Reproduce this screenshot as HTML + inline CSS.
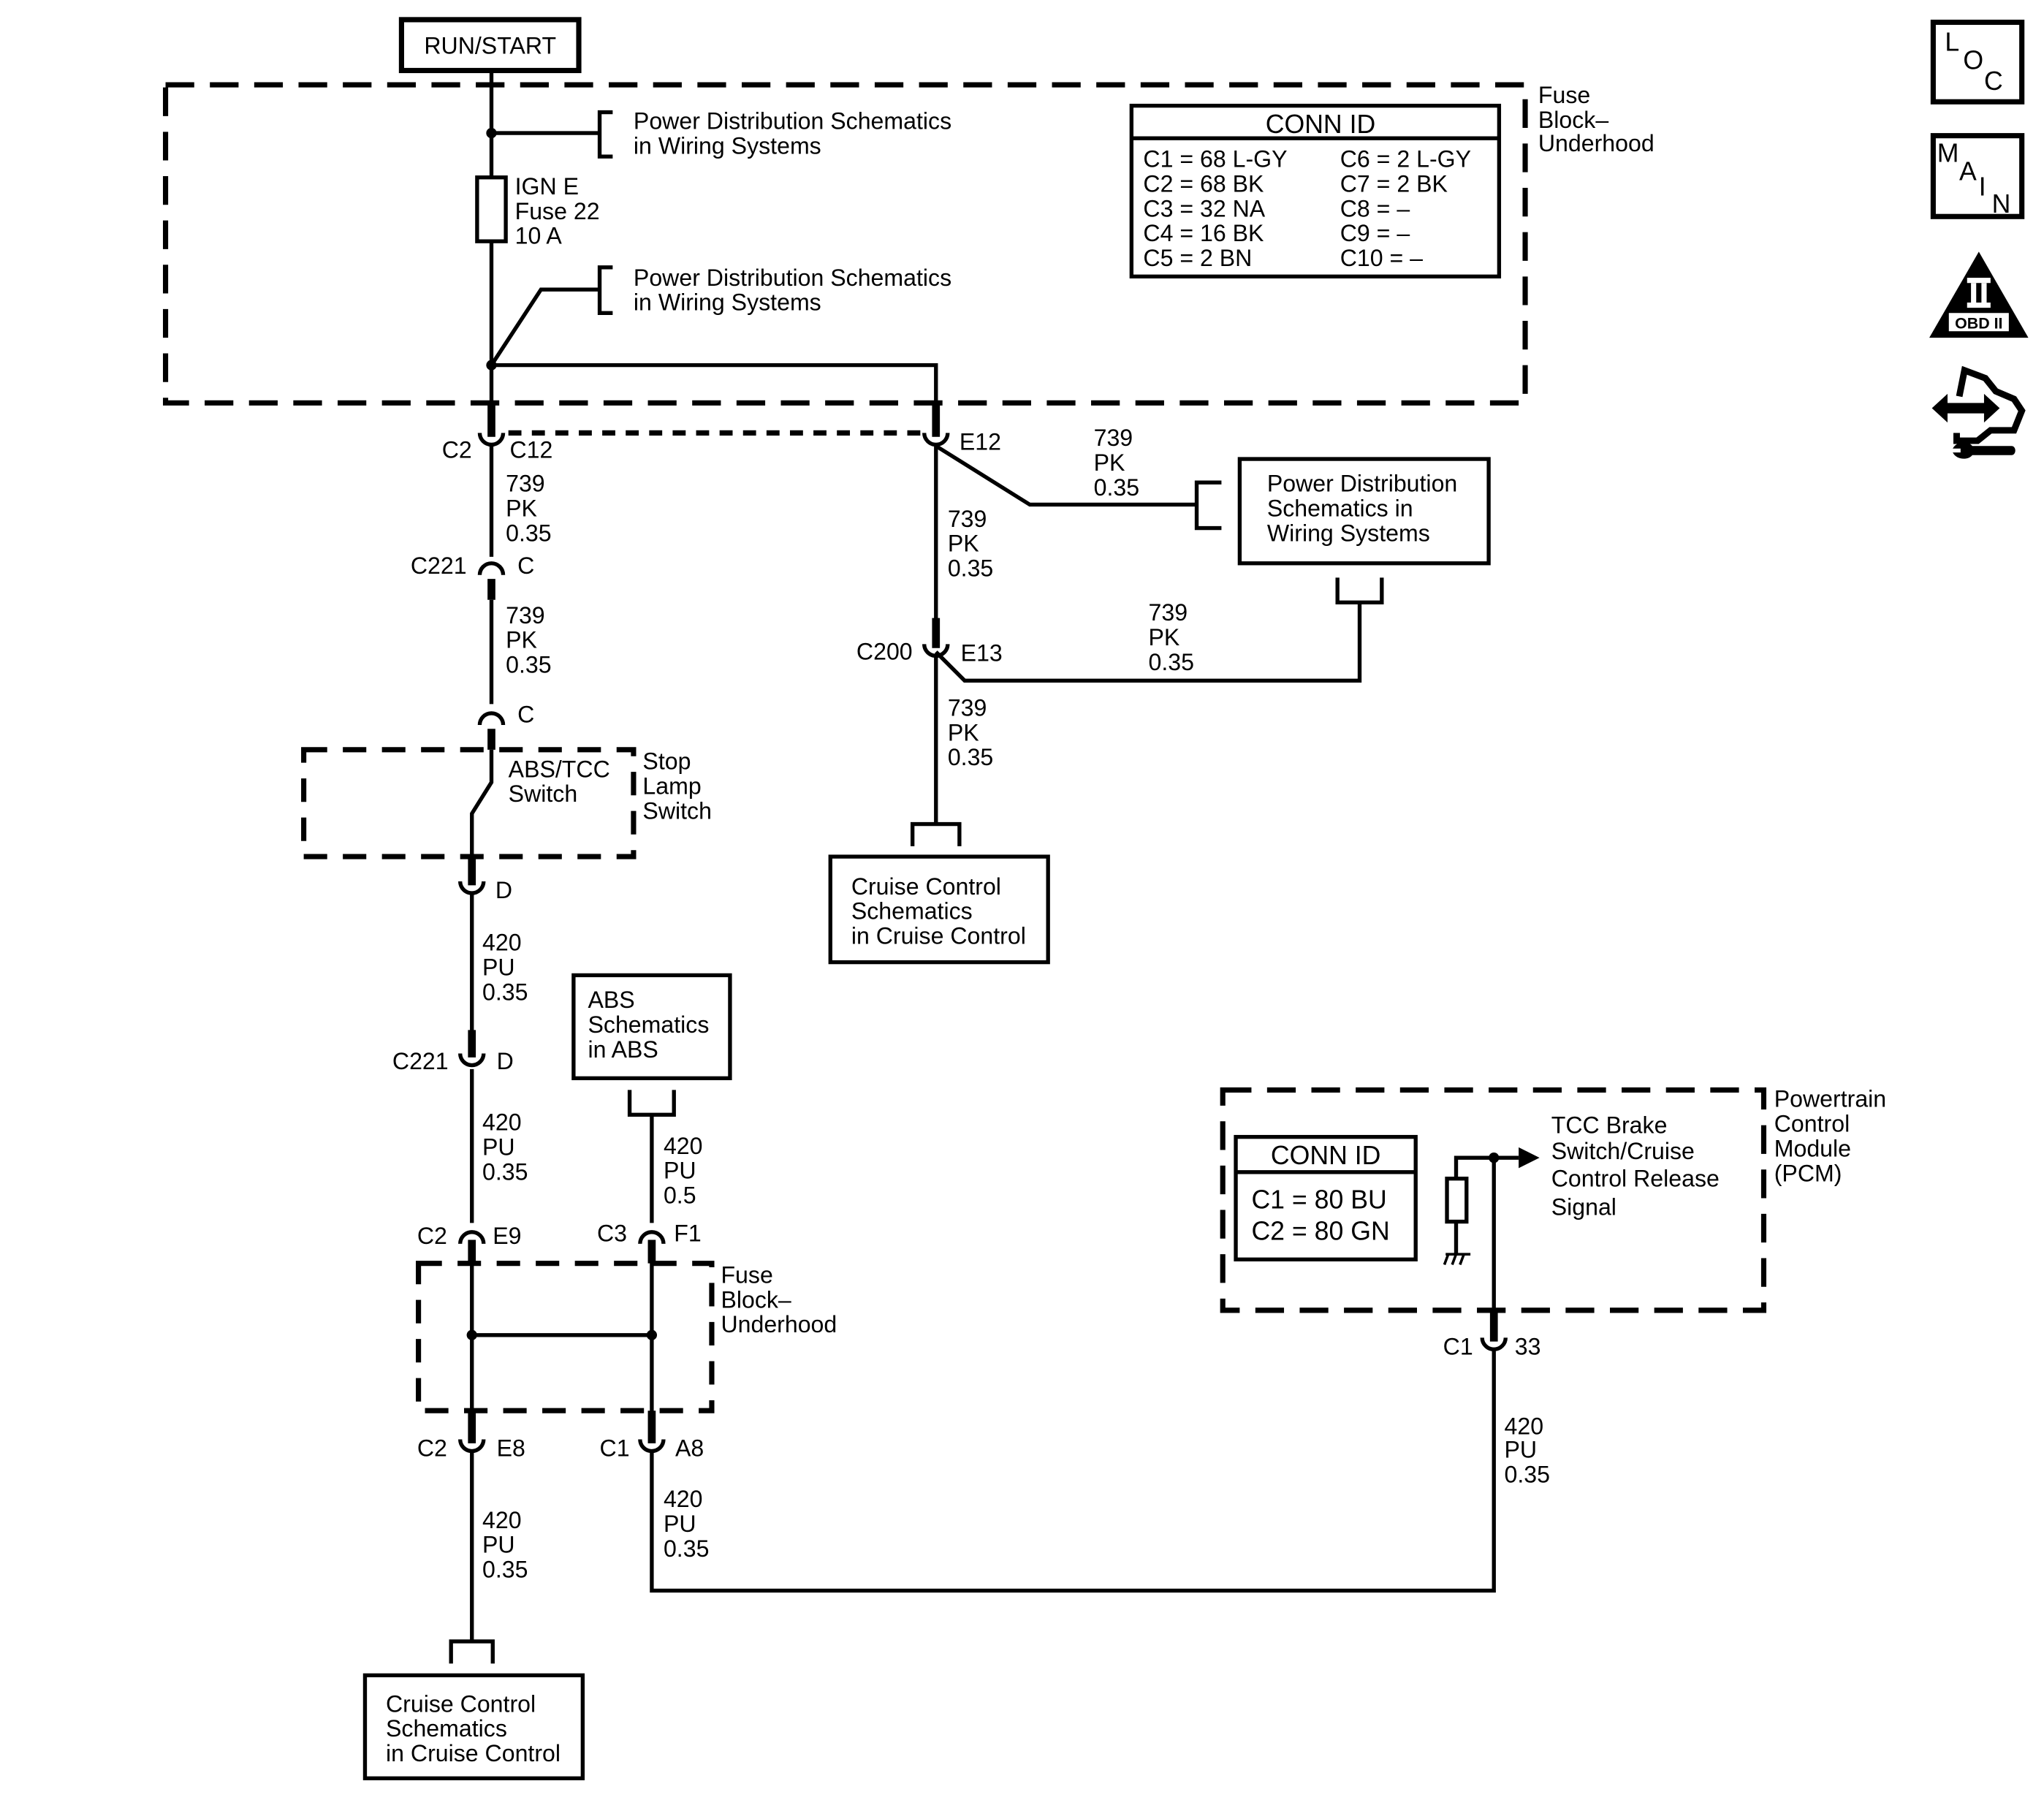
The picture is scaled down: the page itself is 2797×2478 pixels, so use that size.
<!DOCTYPE html>
<html><head><meta charset="utf-8">
<style>
html,body{margin:0;padding:0;background:#fff;}
svg{display:block;}
text{font-family:"Liberation Sans",Arial,sans-serif;font-size:18px;fill:#000;}
</style></head>
<body>
<svg width="2797" height="2478" viewBox="0 0 1568 1389" xmlns="http://www.w3.org/2000/svg">
<g fill="none" stroke="#000" stroke-width="3">
<rect x="308" y="15" width="136" height="39" stroke-width="4"/>
<rect x="127" y="65" width="1043" height="244" stroke-width="4" stroke-dasharray="22 12"/>
<line x1="377" y1="54" x2="377" y2="136"/>
<line x1="377" y1="185" x2="377" y2="316"/>
<line x1="377" y1="102" x2="460" y2="102"/>
<path d="M470 86 H460 V120 H470"/>
<rect x="366" y="136" width="22" height="49"/>
<path d="M377 280 L415 222 H460"/>
<path d="M470 205 H460 V240 H470"/>
<path d="M377 280 H718 V316"/>
<rect x="868" y="81" width="282" height="131"/>
<line x1="868" y1="106" x2="1150" y2="106"/>
<line x1="390" y1="332" x2="708" y2="332" stroke-width="4" stroke-dasharray="10 8"/>
<line x1="377" y1="342" x2="377" y2="427"/>
<line x1="377" y1="460" x2="377" y2="540"/>
<path d="M377 575 V600 L362 624 V660"/>
<rect x="233" y="575" width="253" height="82" stroke-width="4" stroke-dasharray="18 12"/>
<line x1="362" y1="686" x2="362" y2="801"/>
<line x1="362" y1="820" x2="362" y2="938"/>
<rect x="321" y="969" width="225" height="113" stroke-width="4" stroke-dasharray="18 12"/>
<line x1="362" y1="968" x2="362" y2="1090"/>
<line x1="500" y1="968" x2="500" y2="1090"/>
<line x1="362" y1="1024" x2="500" y2="1024"/>
<line x1="362" y1="1114" x2="362" y2="1259"/>
<path d="M346 1276 V1259 H378 V1276"/>
<rect x="280" y="1285" width="167" height="79"/>
<rect x="440" y="748" width="120" height="79"/>
<path d="M483 836 V855 H517 V836"/>
<line x1="500" y1="855" x2="500" y2="938"/>
<path d="M500 1114 V1220 H1146 V1036"/>
<line x1="718" y1="342" x2="718" y2="490"/>
<path d="M718 342 L790 387 H918"/>
<path d="M937 370 H918 V405 H937"/>
<rect x="951" y="352" width="191" height="80"/>
<path d="M1026 443 V462 H1060 V443"/>
<path d="M1043 462 V522 H740 L718 500"/>
<line x1="718" y1="503" x2="718" y2="632"/>
<path d="M700 649 V632 H736 V649"/>
<rect x="637" y="657" width="167" height="81"/>
<rect x="938" y="836" width="415" height="169" stroke-width="4" stroke-dasharray="22 12"/>
<rect x="948" y="872" width="138" height="94"/>
<line x1="948" y1="899" x2="1086" y2="899"/>
<rect x="1110" y="904" width="15" height="33"/>
<path d="M1117 904 V888 H1165"/>
<line x1="1117" y1="937" x2="1117" y2="962"/>
<line x1="1109" y1="962" x2="1128" y2="962" stroke-width="2"/>
<path d="M1111 962 l-3 8 M1117 962 l-3 8 M1123 962 l-3 8" stroke-width="2"/>
<line x1="1146" y1="888" x2="1146" y2="1010"/>
<g stroke-width="3">
<path d="M368 332 a9 9 0 0 0 18 0"/>
<path d="M709 332 a9 9 0 0 0 18 0"/>
<path d="M709 494 a9 9 0 0 0 18 0"/>
<path d="M353 676 a9 9 0 0 0 18 0"/>
<path d="M353 808 a9 9 0 0 0 18 0"/>
<path d="M353 1104 a9 9 0 0 0 18 0"/>
<path d="M491 1104 a9 9 0 0 0 18 0"/>
<path d="M1137 1026 a9 9 0 0 0 18 0"/>
<path d="M368 441 a9 9 0 0 1 18 0"/>
<path d="M368 556 a9 9 0 0 1 18 0"/>
<path d="M353 954 a9 9 0 0 1 18 0"/>
<path d="M491 954 a9 9 0 0 1 18 0"/>
</g>
<g stroke-width="6">
<line x1="377" y1="309" x2="377" y2="335"/>
<line x1="718" y1="309" x2="718" y2="335"/>
<line x1="718" y1="474" x2="718" y2="497"/>
<line x1="362" y1="657" x2="362" y2="679"/>
<line x1="362" y1="790" x2="362" y2="811"/>
<line x1="362" y1="1082" x2="362" y2="1107"/>
<line x1="500" y1="1082" x2="500" y2="1107"/>
<line x1="1146" y1="1005" x2="1146" y2="1029"/>
<line x1="377" y1="444" x2="377" y2="460"/>
<line x1="377" y1="559" x2="377" y2="575"/>
<line x1="362" y1="951" x2="362" y2="969"/>
<line x1="500" y1="951" x2="500" y2="969"/>
</g>
<rect x="1483" y="17" width="68" height="61" stroke-width="4"/>
<rect x="1483" y="104" width="68" height="62" stroke-width="4"/>
</g>
<g fill="#000">
<circle cx="377" cy="102" r="4"/>
<circle cx="377" cy="280" r="4"/>
<circle cx="362" cy="1024" r="4"/>
<circle cx="500" cy="1024" r="4"/>
<circle cx="1146" cy="888" r="4"/>
<path d="M1165 880 L1181 888 L1165 896 Z"/>
<path d="M1518 193 L1556 259 L1480 259 Z"/>
<path d="M1482 313 l12 -11 v7 h28 v-7 l12 11 l-12 11 v-7 h-28 v7 Z"/>
<path d="M1498 344 c3 -6 12 -6 15 -2 h30 c4 0 4 7 0 7 h-30 c-3 4 -12 4 -15 -2 l6 0 v-3 Z"/>
</g>
<path d="M1503 304 l4 -20 l16 6 l8 10 l14 6 l6 9 l-6 15 h-18 l-10 8 h-16 v-6" fill="none" stroke="#000" stroke-width="5"/>
<rect x="1495" y="240" width="46" height="14" fill="#fff"/>
<rect x="1509" y="213" width="18" height="4" fill="#fff"/>
<rect x="1509" y="232" width="18" height="4" fill="#fff"/>
<rect x="1512" y="217" width="4" height="15" fill="#fff"/>
<rect x="1520" y="217" width="4" height="15" fill="#fff"/>
<text x="1518" y="252" text-anchor="middle" style="font-size:12px;font-weight:bold">OBD II</text>
<text x="1492" y="39" style="font-size:20px">L</text>
<text x="1506" y="53" style="font-size:20px">O</text>
<text x="1522" y="69" style="font-size:20px">C</text>
<text x="1486" y="124" style="font-size:20px">M</text>
<text x="1503" y="138" style="font-size:20px">A</text>
<text x="1518" y="150" style="font-size:20px">I</text>
<text x="1528" y="163" style="font-size:20px">N</text>

<text x="376" y="41" text-anchor="middle">RUN/START</text>
<text x="486" y="99">Power Distribution Schematics</text>
<text x="486" y="118">in Wiring Systems</text>
<text x="486" y="219">Power Distribution Schematics</text>
<text x="486" y="238">in Wiring Systems</text>
<text x="395" y="149">IGN E</text>
<text x="395" y="168">Fuse 22</text>
<text x="395" y="187">10 A</text>
<text x="1013" y="102" text-anchor="middle" style="font-size:20px">CONN ID</text>
<text x="877" y="128">C1 = 68 L-GY</text>
<text x="877" y="147">C2 = 68 BK</text>
<text x="877" y="166">C3 = 32 NA</text>
<text x="877" y="185">C4 = 16 BK</text>
<text x="877" y="204">C5 = 2 BN</text>
<text x="1028" y="128">C6 = 2 L-GY</text>
<text x="1028" y="147">C7 = 2 BK</text>
<text x="1028" y="166">C8 = –</text>
<text x="1028" y="185">C9 = –</text>
<text x="1028" y="204">C10 = –</text>
<text x="1180" y="79">Fuse</text>
<text x="1180" y="98">Block–</text>
<text x="1180" y="116">Underhood</text>
<text x="362" y="351" text-anchor="end">C2</text>
<text x="391" y="351">C12</text>
<text x="736" y="345">E12</text>
<text x="388" y="377">739</text><text x="388" y="396">PK</text><text x="388" y="415">0.35</text>
<text x="358" y="440" text-anchor="end">C221</text>
<text x="397" y="440">C</text>
<text x="388" y="478">739</text><text x="388" y="497">PK</text><text x="388" y="516">0.35</text>
<text x="397" y="554">C</text>
<text x="390" y="596">ABS/TCC</text>
<text x="390" y="615">Switch</text>
<text x="493" y="590">Stop</text>
<text x="493" y="609">Lamp</text>
<text x="493" y="628">Switch</text>
<text x="380" y="689">D</text>
<text x="370" y="729">420</text><text x="370" y="748">PU</text><text x="370" y="767">0.35</text>
<text x="344" y="820" text-anchor="end">C221</text>
<text x="381" y="820">D</text>
<text x="370" y="867">420</text><text x="370" y="886">PU</text><text x="370" y="905">0.35</text>
<text x="343" y="954" text-anchor="end">C2</text>
<text x="378" y="954">E9</text>
<text x="481" y="952" text-anchor="end">C3</text>
<text x="517" y="952">F1</text>
<text x="553" y="984">Fuse</text>
<text x="553" y="1003">Block–</text>
<text x="553" y="1022">Underhood</text>
<text x="343" y="1117" text-anchor="end">C2</text>
<text x="381" y="1117">E8</text>
<text x="483" y="1117" text-anchor="end">C1</text>
<text x="518" y="1117">A8</text>
<text x="370" y="1172">420</text><text x="370" y="1191">PU</text><text x="370" y="1210">0.35</text>
<text x="296" y="1313">Cruise Control</text>
<text x="296" y="1332">Schematics</text>
<text x="296" y="1351">in Cruise Control</text>
<text x="451" y="773">ABS</text>
<text x="451" y="792">Schematics</text>
<text x="451" y="811">in ABS</text>
<text x="509" y="885">420</text><text x="509" y="904">PU</text><text x="509" y="923">0.5</text>
<text x="509" y="1156">420</text><text x="509" y="1175">PU</text><text x="509" y="1194">0.35</text>
<text x="839" y="342">739</text><text x="839" y="361">PK</text><text x="839" y="380">0.35</text>
<text x="727" y="404">739</text><text x="727" y="423">PK</text><text x="727" y="442">0.35</text>
<text x="972" y="377">Power Distribution</text>
<text x="972" y="396">Schematics in</text>
<text x="972" y="415">Wiring Systems</text>
<text x="881" y="476">739</text><text x="881" y="495">PK</text><text x="881" y="514">0.35</text>
<text x="700" y="506" text-anchor="end">C200</text>
<text x="737" y="507">E13</text>
<text x="727" y="549">739</text><text x="727" y="568">PK</text><text x="727" y="587">0.35</text>
<text x="653" y="686">Cruise Control</text>
<text x="653" y="705">Schematics</text>
<text x="653" y="724">in Cruise Control</text>
<text x="1361" y="849">Powertrain</text>
<text x="1361" y="868">Control</text>
<text x="1361" y="887">Module</text>
<text x="1361" y="906">(PCM)</text>
<text x="1017" y="893" text-anchor="middle" style="font-size:20px">CONN ID</text>
<text x="960" y="927" style="font-size:20px">C1 = 80 BU</text>
<text x="960" y="951" style="font-size:20px">C2 = 80 GN</text>
<text x="1190" y="869">TCC Brake</text>
<text x="1190" y="889">Switch/Cruise</text>
<text x="1190" y="910">Control Release</text>
<text x="1190" y="932">Signal</text>
<text x="1130" y="1039" text-anchor="end">C1</text>
<text x="1162" y="1039">33</text>
<text x="1154" y="1100">420</text><text x="1154" y="1118">PU</text><text x="1154" y="1137">0.35</text>
</svg>
</body></html>
